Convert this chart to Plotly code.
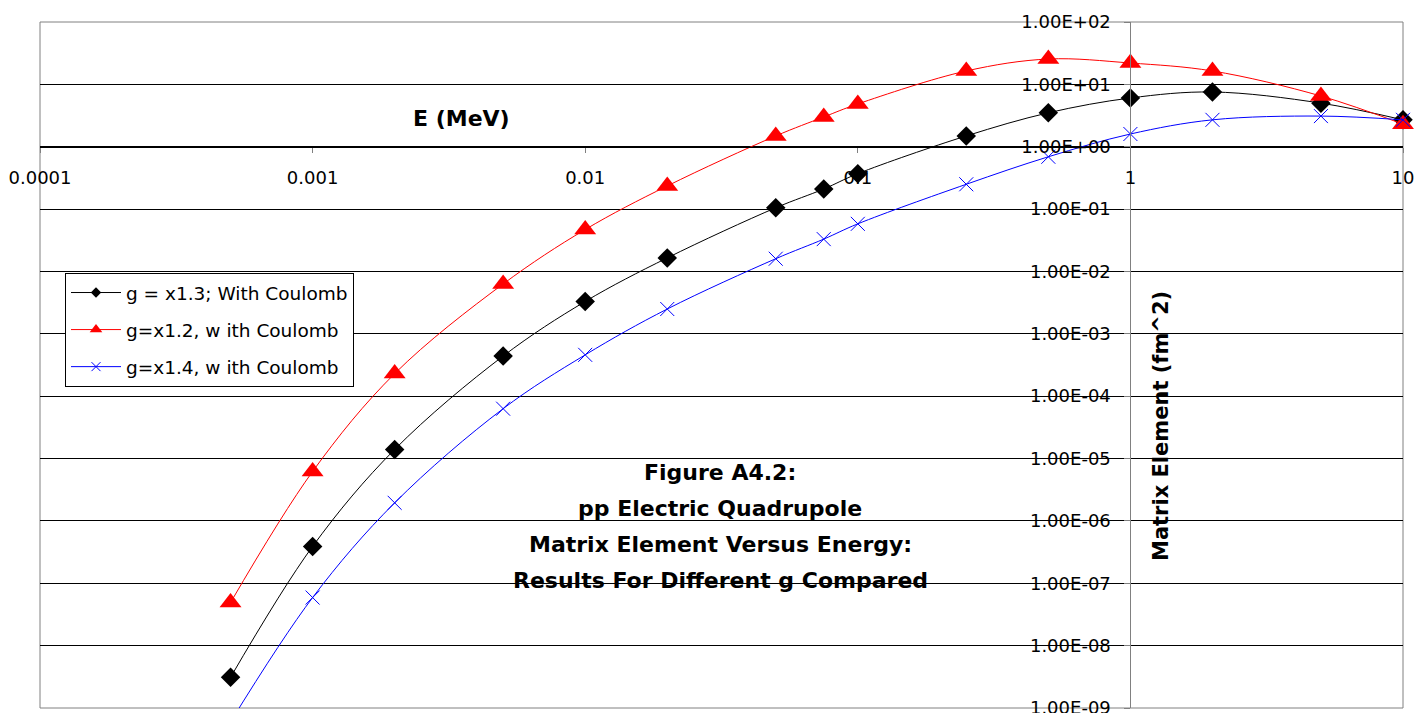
import plotly.graph_objects as go
import math

# ---- data ----
energy = [0.0005, 0.001, 0.002, 0.005, 0.01, 0.02, 0.05, 0.075, 0.1, 0.25, 0.5, 1, 2, 5, 10]
g13 = [3.1e-9, 3.9e-7, 1.4e-5, 4.4e-4, 3.3e-3, 0.0165, 0.105, 0.21, 0.37, 1.49, 3.5, 6.05, 7.55, 5.0, 2.7]
g12 = [4.9e-8, 6.2e-6, 2.3e-4, 6.3e-3, 0.047, 0.235, 1.49, 3.0, 4.85, 16.4, 25.5, 22.0, 16.4, 6.5, 2.3]
g14 = [6e-10, 5.9e-8, 1.95e-6, 6.3e-5, 4.6e-4, 2.5e-3, 0.016, 0.033, 0.058, 0.25, 0.69, 1.6, 2.7, 3.1, 2.7]

series_names = ["g = x1.3; With Coulomb", "g=x1.2, w ith Coulomb", "g=x1.4, w ith Coulomb"]
x_ticks = [0.0001, 0.001, 0.01, 0.1, 1, 10]
y_ticks = [1e-9, 1e-8, 1e-7, 1e-6, 1e-5, 1e-4, 1e-3, 1e-2, 1e-1, 1e0, 1e1, 1e2]
x_title = "E (MeV)"
y_title = "Matrix Element (fm^2)"
caption_lines = ["Figure A4.2:", "pp Electric Quadrupole",
                 "Matrix Element Versus Energy:", "Results For Different g Compared"]

FONT = "DejaVu Sans"
xr = [math.log10(x_ticks[0]), math.log10(x_ticks[-1])]
yr = [math.log10(y_ticks[0]), math.log10(y_ticks[-1])]

styles = [
    dict(color="black", symbol="diamond", size=15, leg_size=8),
    dict(color="#ff0000", symbol="triangle-up", size=19, leg_size=11),
    dict(color="#0000ff", symbol="x-thin", size=14, leg_size=9),
]
values = [g13, g12, g14]

fig = go.Figure()
for name, ys, st in zip(series_names, values, styles):
    mk = dict(symbol=st["symbol"], size=st["size"], color=st["color"],
              line=dict(color=st["color"], width=1 if st["symbol"] == "x-thin" else 0))
    fig.add_trace(go.Scatter(
        x=energy, y=ys, name=name, mode="lines+markers", showlegend=False,
        line=dict(color=st["color"], width=1, shape="spline"),
        marker=mk, cliponaxis=False))
for name, st in zip(series_names, styles):
    mk = dict(symbol=st["symbol"], size=st["leg_size"], color=st["color"],
              line=dict(color=st["color"], width=1 if st["symbol"] == "x-thin" else 0))
    fig.add_trace(go.Scatter(
        x=[None], y=[None], name=name, mode="lines+markers", legendgroup=name,
        line=dict(color=st["color"], width=1), marker=mk))

# page has an 8px body margin; figure is sized/margined to compensate
fig.update_layout(
    width=1415, height=705,
    margin=dict(l=32, r=20, t=14, b=5, autoexpand=False),
    paper_bgcolor="white", plot_bgcolor="white",
    font=dict(family=FONT, size=18, color="black"),
    showlegend=True,
    legend=dict(x=(65 - 40) / 1363, y=1 - (273 - 22) / 686, xanchor="left", yanchor="top",
                bgcolor="white", bordercolor="black", borderwidth=1,
                font=dict(family=FONT, size=18.5), itemsizing="trace", itemwidth=50,
                tracegroupgap=10),
    xaxis=dict(type="log", range=xr, anchor="free", automargin=False,
               position=(0 - yr[0]) / (yr[1] - yr[0]),
               tickvals=x_ticks, ticktext=[f"{v:g}" for v in x_ticks],
               showgrid=False, showline=True, linecolor="black", linewidth=1,
               ticks="outside", ticklen=5, tickcolor="#808080",
               ticklabelstandoff=10, ticklabeloverflow="allow",
               tickfont=dict(family=FONT, size=18), zeroline=False),
    yaxis=dict(type="log", range=yr, anchor="free", automargin=False,
               position=(0 - xr[0]) / (xr[1] - xr[0]),
               tickvals=y_ticks, ticktext=[f"{v:.2E}" for v in y_ticks],
               showgrid=True, gridcolor="black", gridwidth=1,
               showline=True, linecolor="#808080", linewidth=1,
               ticks="outside", ticklen=6, tickcolor="#808080",
               ticklabelstandoff=10, ticklabeloverflow="allow",
               tickfont=dict(family=FONT, size=18), zeroline=False),
    shapes=[dict(type="rect", xref="paper", yref="paper", x0=0, x1=1, y0=0, y1=1,
                 line=dict(color="#808080", width=1), layer="between")],
)

anns = [
    dict(text=f"<b>{x_title}</b>", x=(461 - 40) / 1363, y=1 - (118 - 22) / 686,
         font=dict(family=FONT, size=22)),
    dict(text=f"<b>{y_title}</b>", x=(1161 - 40) / 1363, y=1 - (426 - 22) / 686,
         textangle=-90, font=dict(family=FONT, size=21)),
]
for i, line in enumerate(caption_lines):
    anns.append(dict(text=f"<b>{line}</b>", x=(720 - 40) / 1363,
                     y=1 - (472 + i * 36 - 22) / 686, font=dict(family=FONT, size=22)))
for a in anns:
    a.update(xref="paper", yref="paper", showarrow=False, xanchor="center", yanchor="middle")
fig.update_layout(annotations=anns)

fig.write_html("out.html")
